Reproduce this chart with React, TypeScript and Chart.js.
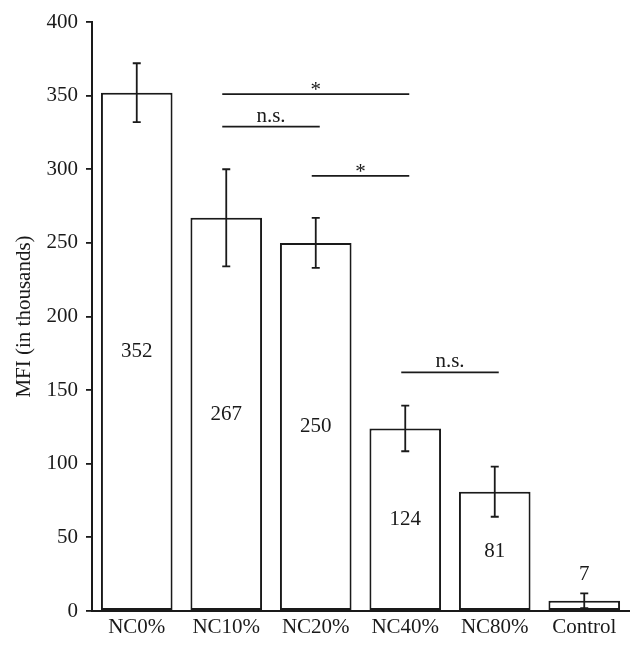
import React, { useEffect, useRef } from "react";
import { Chart, registerables } from "chart.js";

Chart.register(...registerables);

const categories = ["NC0%", "NC10%", "NC20%", "NC40%", "NC80%", "Control"];
const values = [352, 267, 250, 124, 81, 7];
const errors = [20, 33, 17, 15.5, 17, 5];
const yTicks = [0, 50, 100, 150, 200, 250, 300, 350, 400];

// significance brackets
const sigFrom = [1, 1, 2, 3];
const sigTo = [3, 2, 3, 4];
const sigLevel = [351, 329, 295.5, 162];
const sigText = ["*", "n.s.", "*", "n.s."];

const FONT = "'Liberation Serif', 'Times New Roman', serif";
const INK = "#1a1a1a";

const overlayPlugin = {
  id: "overlay",
  afterDatasetsDraw(chart: any) {
    const ctx = chart.ctx;
    const x = chart.scales.x;
    const y = chart.scales.y;
    const meta = chart.getDatasetMeta(0);
    ctx.save();
    ctx.strokeStyle = INK;
    ctx.fillStyle = INK;
    ctx.lineWidth = 1.8;
    // error bars
    values.forEach((v, i) => {
      const bar = meta.data[i];
      const cx = bar.x;
      const yt = y.getPixelForValue(v + errors[i]);
      const yb = y.getPixelForValue(Math.max(0, v - errors[i]));
      ctx.beginPath();
      ctx.moveTo(cx, yt);
      ctx.lineTo(cx, yb);
      ctx.moveTo(cx - 4, yt);
      ctx.lineTo(cx + 4, yt);
      ctx.moveTo(cx - 4, yb);
      ctx.lineTo(cx + 4, yb);
      ctx.stroke();
    });
    // value labels
    ctx.font = `21px ${FONT}`;
    ctx.textAlign = "center";
    values.forEach((v, i) => {
      const bar = meta.data[i];
      const h = y.getPixelForValue(0) - y.getPixelForValue(v);
      if (h > 40) {
        ctx.textBaseline = "middle";
        ctx.fillText(String(v), bar.x, y.getPixelForValue(v / 2));
      } else {
        ctx.textBaseline = "alphabetic";
        ctx.fillText(String(v), bar.x, y.getPixelForValue(v + errors[i]) - 13);
      }
    });
    // significance lines
    sigLevel.forEach((lv, k) => {
      const x1 = x.getPixelForValue(sigFrom[k]) - 4;
      const x2 = x.getPixelForValue(sigTo[k]) + 4;
      const py = y.getPixelForValue(lv);
      ctx.beginPath();
      ctx.moveTo(x1, py);
      ctx.lineTo(x2, py);
      ctx.stroke();
      ctx.textBaseline = "alphabetic";
      const t = sigText[k];
      ctx.fillText(t, (x1 + x2) / 2, t === "*" ? py + 2 : py - 5);
    });
    ctx.restore();
  },
};

export default function App() {
  const ref = useRef<HTMLCanvasElement | null>(null);
  useEffect(() => {
    if (!ref.current) return;
    const chart = new Chart(ref.current, {
      type: "bar",
      data: {
        labels: categories,
        datasets: [
          {
            data: values,
            backgroundColor: "#ffffff",
            borderColor: INK,
            borderWidth: 2,
            borderSkipped: false,
            barPercentage: 0.8,
            categoryPercentage: 1,
          },
        ],
      },
      options: {
        animation: false,
        responsive: true,
        maintainAspectRatio: false,
        layout: { padding: { top: 22, right: 14, bottom: 0, left: 0 } },
        plugins: {
          legend: { display: false },
          tooltip: { enabled: false },
        },
        scales: {
          x: {
            grid: { display: false, drawTicks: false },
            border: { display: true, color: INK, width: 2 },
            ticks: {
              color: INK,
              font: { family: FONT, size: 21 },
              padding: 4,
              maxRotation: 0,
              autoSkip: false,
            },
            afterFit(scale: any) {
              scale.height = 39;
            },
          },
          y: {
            min: 0,
            max: 400,
            afterBuildTicks(scale: any) {
              scale.ticks = yTicks.map((v) => ({ value: v }));
            },
            grid: {
              display: true,
              drawOnChartArea: false,
              drawTicks: true,
              tickLength: 6,
              color: INK,
              lineWidth: 1.8,
            },
            border: { display: true, color: INK, width: 2 },
            ticks: {
              color: INK,
              font: { family: FONT, size: 21 },
              padding: 8,
            },
            title: {
              display: true,
              text: "MFI (in thousands)",
              color: INK,
              font: { family: FONT, size: 21 },
              padding: { top: 12, bottom: 0 },
            },
            afterFit(scale: any) {
              scale.width = 92;
            },
          },
        },
      },
      plugins: [overlayPlugin],
    });
    return () => chart.destroy();
  }, []);
  return (
    <div style={{ position: "absolute", left: 0, top: 0, width: 643, height: 650, background: "#fff" }}>
      <canvas ref={ref} />
    </div>
  );
}
